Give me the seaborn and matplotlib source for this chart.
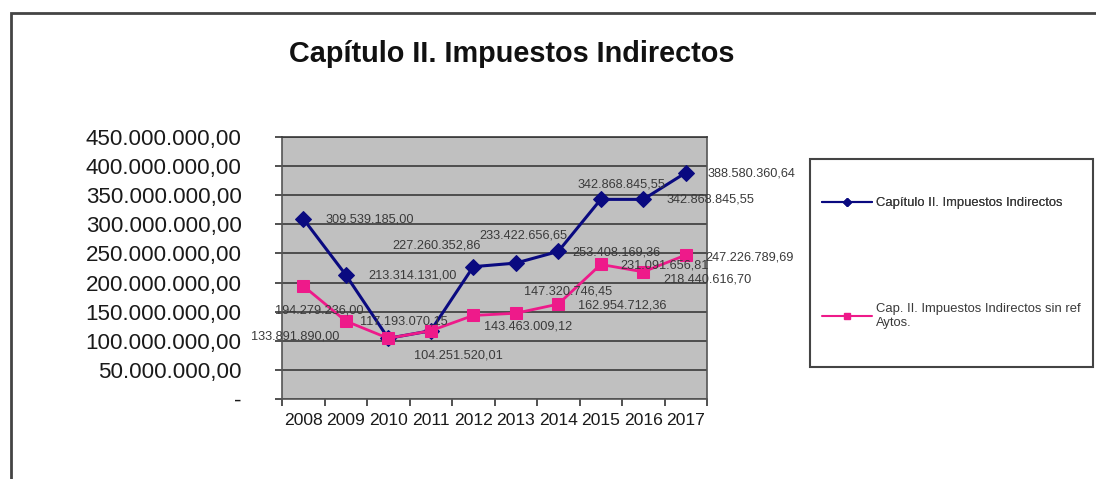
import numpy as np
import pandas as pd
import matplotlib
matplotlib.use("Agg")
import matplotlib.pyplot as plt
from matplotlib.ticker import FuncFormatter, FixedLocator
from matplotlib.patches import Rectangle
from matplotlib.lines import Line2D
import seaborn as sns

# ---- data -------------------------------------------------------------
years = ["2008", "2009", "2010", "2011", "2012", "2013", "2014", "2015", "2016", "2017"]
impuestos_indirectos = [309539185.00, 213314131.00, 104251520.01, 117193070.15,
                        227260352.86, 233422656.65, 253408169.36, 342868845.55,
                        342868845.55, 388580360.64]
sin_ref_aytos = [194279236.00, 133891890.00, 104251520.01, 117193070.15,
                 143463009.12, 147320746.45, 162954712.36, 231091656.81,
                 218440616.70, 247226789.69]
series_names = ["Capítulo II. Impuestos Indirectos",
                "Cap. II. Impuestos Indirectos sin ref\nAytos."]
title = "Capítulo II. Impuestos Indirectos"
y_ticks = [0, 50e6, 100e6, 150e6, 200e6, 250e6, 300e6, 350e6, 400e6, 450e6]

# ---- styling ----------------------------------------------------------
sns.set_theme(style="white")
plt.rcParams["font.family"] = ["Liberation Sans", "DejaVu Sans"]

BLUE = "#0A0A80"
PINK = "#EE1A8A"
GRID = "#3a3a3a"
TXT = "#3a3a3a"


def es_format(v, _pos=None):
    if abs(v) < 1e-6:
        return "-"
    s = f"{v:,.2f}"
    return s.replace(",", "X").replace(".", ",").replace("X", ".")


df = pd.DataFrame({
    "pos": np.arange(len(years)),
    "a": impuestos_indirectos,
    "b": sin_ref_aytos,
})

W, H = 1096, 479
fig = plt.figure(figsize=(W / 100, H / 100), dpi=100)
fig.patch.set_facecolor("white")


def fx(px):
    return px / W


def fy(py):
    return 1 - py / H


# outer chart frame (right and bottom edges run past the canvas)
fig.add_artist(Rectangle((fx(11), fy(600)), fx(1200), (600 - 13) / H,
                         transform=fig.transFigure, fill=False,
                         edgecolor="#444444", linewidth=2.0))

ax = fig.add_axes([fx(282), fy(399), fx(707 - 282), (399 - 137) / H])
ax.set_facecolor("#C0C0C0")

sns.lineplot(data=df, x="pos", y="a", ax=ax, color=BLUE, linewidth=2.2,
             marker="D", markersize=8, markeredgecolor=BLUE, zorder=3)
sns.lineplot(data=df, x="pos", y="b", ax=ax, color=PINK, linewidth=2.0,
             marker="s", markersize=9, markeredgecolor=PINK, zorder=4)

ax.set_xlim(-0.5, len(years) - 0.5)
ax.set_ylim(0, 450e6)
ax.set_xlabel("")
ax.set_ylabel("")

ax.yaxis.set_major_locator(FixedLocator(y_ticks))
ax.yaxis.set_major_formatter(FuncFormatter(es_format))
ax.grid(axis="y", color=GRID, linewidth=1.2)
ax.grid(axis="x", visible=False)
ax.set_axisbelow(True)

ax.set_xticks(df["pos"])
ax.set_xticklabels(years)
ax.xaxis.set_minor_locator(FixedLocator(np.arange(-0.5, len(years), 1.0)))
ax.tick_params(axis="x", which="major", length=0, pad=10, labelsize=12.6, colors="#1a1a1a")
ax.tick_params(axis="x", which="minor", length=5, width=1.2, color="#333333", direction="out")
ax.tick_params(axis="y", which="major", length=5, width=1.2, color="#333333",
               direction="out", pad=24, labelsize=16.1, labelcolor="#1a1a1a")
ax.tick_params(left=True, bottom=True)
ax.xaxis.set_tick_params(which="minor", bottom=True)

for side, sp in ax.spines.items():
    sp.set_color("#555555")
    sp.set_linewidth(1.2)
ax.spines["top"].set_color(GRID)

# data labels: (series values, index, dx px, dy px downward)
label_specs = [
    (impuestos_indirectos, 0, 22, 1),
    (impuestos_indirectos, 1, 23, 1),
    (impuestos_indirectos, 4, -81, -21),
    (impuestos_indirectos, 5, -36, -28),
    (impuestos_indirectos, 6, 14, 1),
    (impuestos_indirectos, 7, -23, -15),
    (impuestos_indirectos, 8, 23, 0),
    (impuestos_indirectos, 9, 22, 1),
    (sin_ref_aytos, 0, -28, 25),
    (sin_ref_aytos, 1, -95, 15),
    (sin_ref_aytos, 2, 26, 17),
    (sin_ref_aytos, 3, -71, -9),
    (sin_ref_aytos, 4, 11, 11),
    (sin_ref_aytos, 5, 8, -22),
    (sin_ref_aytos, 6, 20, 1),
    (sin_ref_aytos, 7, 20, 1),
    (sin_ref_aytos, 8, 20, 8),
    (sin_ref_aytos, 9, 20, 2),
]
for vals, i, dx, dy in label_specs:
    ax.annotate(es_format(vals[i]), xy=(i, vals[i]), xytext=(dx, -dy),
                textcoords="offset pixels", ha="left", va="center",
                fontsize=9.2, color=TXT, zorder=6, annotation_clip=False)

fig.text(fx(512), fy(54), title, ha="center", va="center",
         fontsize=20.8, fontweight="bold", color="#111111")

# legend box
fig.add_artist(Rectangle((fx(810), fy(367)), fx(1093 - 810), (367 - 159) / H,
                         transform=fig.transFigure, fill=False,
                         edgecolor="#444444", linewidth=1.5))
h_blue = Line2D([], [], color=BLUE, linewidth=1.5, marker="D", markersize=4)
h_pink = Line2D([], [], color=PINK, linewidth=1.5, marker="s", markersize=5)
common = dict(frameon=False, handlelength=3.8, handletextpad=0.3,
              fontsize=9.4, labelcolor=TXT, borderpad=0, borderaxespad=0)
leg1 = fig.legend([h_blue], [series_names[0]], loc="center left",
                  bbox_to_anchor=(fx(822), fy(203)), **common)
fig.add_artist(leg1)
fig.legend([h_pink], [series_names[1]], loc="center left",
           bbox_to_anchor=(fx(822), fy(316)), **common)

fig.savefig("out.png", dpi=100, facecolor="white")
